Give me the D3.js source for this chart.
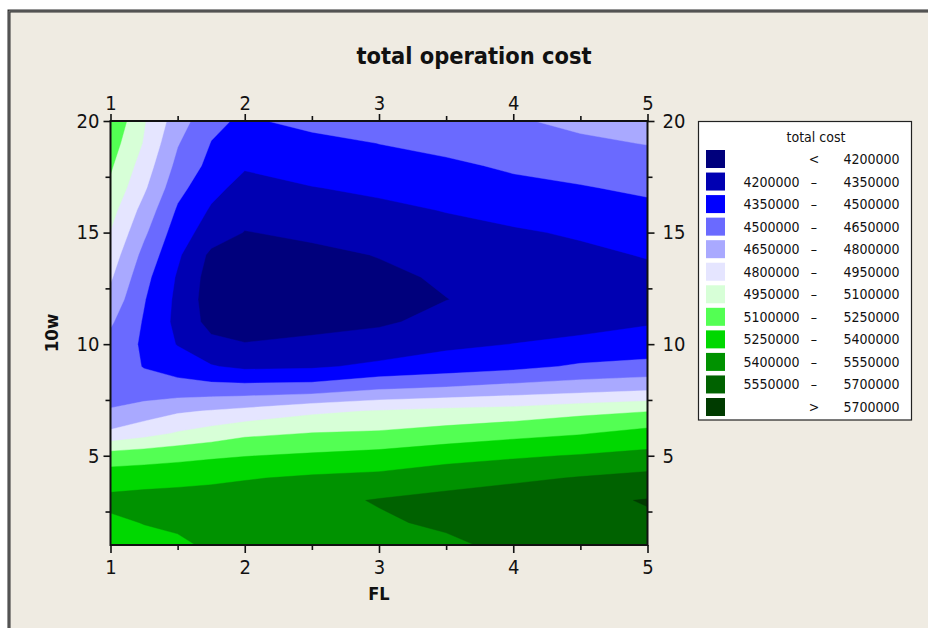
<!DOCTYPE html>
<html>
<head>
<meta charset="utf-8">
<script src="https://cdn.jsdelivr.net/npm/d3@7"></script>
<style>
  body { margin: 0; background: #ffffff; }
  svg { display: block; }
  .tahoma { font-family: "DejaVu Sans Condensed", "DejaVu Sans", sans-serif; font-stretch: condensed; }
</style>
</head>
<body>
<svg id="chart" width="928" height="628"></svg>
<script>
// FL positions (columns) and w positions (rows) where the total cost surface is sampled
const flValues = [1, 1.25, 1.5, 1.75, 2, 2.5, 3, 3.5, 4, 4.5, 5];
const wValues = [1, 2, 3, 4, 5, 6, 7, 8, 9, 10, 11, 12, 13, 14, 15, 16, 17, 18, 19, 20];

// Total cost in thousands, one list per FL column, from w = 1 up to w = 20
const costFL100 = [5340, 5370, 5440, 5330, 5170, 4830, 4660, 4590, 4570, 4600, 4670, 4748, 4819, 4881, 4944, 5004, 5070, 5120, 5170, 5230];
const costFL125 = [5350, 5405, 5460, 5336, 5190, 4897, 4720, 4560, 4494, 4477, 4486, 4509, 4546, 4604, 4677, 4745, 4823, 4881, 4938, 4962];
const costFL150 = [5360, 5440, 5480, 5342, 5211, 4964, 4780, 4560, 4440, 4342, 4311, 4317, 4334, 4374, 4421, 4480, 4547, 4607, 4660, 4721];
const costFL175 = [5435, 5470, 5480, 5366, 5228, 5017, 4810, 4560, 4360, 4240, 4150, 4125, 4137, 4168, 4279, 4333, 4394, 4457, 4495, 4540];
const costFL200 = [5510, 5500, 5480, 5390, 5245, 5070, 4840, 4560, 4320, 4205, 4140, 4110, 4115, 4150, 4195, 4250, 4300, 4365, 4425, 4470];
const costFL250 = [5520, 5530, 5510, 5422, 5272, 5105, 4920, 4570, 4330, 4230, 4155, 4130, 4135, 4170, 4225, 4280, 4345, 4410, 4440, 4560];
const costFL300 = [5500, 5530, 5560, 5440, 5300, 5120, 4960, 4640, 4380, 4260, 4180, 4160, 4175, 4205, 4250, 4320, 4375, 4435, 4502, 4564];
const costFL350 = [5520, 5575, 5600, 5481, 5350, 5158, 4992, 4670, 4420, 4320, 4240, 4198, 4215, 4260, 4310, 4355, 4410, 4475, 4540, 4600];
const costFL400 = [5590, 5620, 5640, 5520, 5380, 5205, 5010, 4710, 4460, 4352, 4270, 4235, 4245, 4280, 4330, 4405, 4465, 4520, 4580, 4635];
const costFL450 = [5620, 5650, 5670, 5560, 5410, 5240, 5060, 4740, 4520, 4380, 4305, 4275, 4280, 4315, 4370, 4435, 4490, 4555, 4625, 4682];
const costFL500 = [5640, 5680, 5708, 5596, 5440, 5300, 5095, 4775, 4540, 4420, 4335, 4305, 4310, 4360, 4410, 4465, 4525, 4590, 4655, 4710];
const costColumns = [costFL100, costFL125, costFL150, costFL175, costFL200, costFL250,
                     costFL300, costFL350, costFL400, costFL450, costFL500];

// Contour breaks (thousands) and the fill of each band, lowest band first
const breaksK = [4200, 4350, 4500, 4650, 4800, 4950, 5100, 5250, 5400, 5550, 5700];
const bandColors = ["#00007C", "#0000B2", "#0000FF", "#6A6AFF", "#A9A9FF", "#E5E5FF",
                    "#D7FFD7", "#53FF53", "#00D800", "#009200", "#006200", "#003B00"];

const xTicks = [1, 2, 3, 4, 5];
const xMinorTicks = [1.5, 2.5, 3.5, 4.5];
const yTicks = [5, 10, 15, 20];
const yMinorTicks = [2.5, 7.5, 12.5, 17.5];

const W = 928, H = 628;
const svg = d3.select("#chart");

// page, panel and its double frame
svg.append("rect").attr("width", W).attr("height", H).attr("fill", "#ffffff");
svg.append("rect").attr("x", 8).attr("y", 10).attr("width", W).attr("height", H).attr("fill", "#EFEBE2");
svg.append("path").attr("d", `M9,${H + 5} V11 H${W + 5}`)
  .attr("fill", "none").attr("stroke", "#2f2f2f").attr("stroke-width", 3);
svg.append("path").attr("d", `M9,${H + 5} V11 H${W + 5}`)
  .attr("fill", "none").attr("stroke", "#8a8a8a").attr("stroke-width", 0.8);

const x = d3.scaleLinear().domain([1, 5]).range([110.5, 647.5]);
const y = d3.scaleLinear().domain([1, 20]).range([545, 121]);

// build the value grid (row index = w, column index = FL)
const nx = flValues.length, ny = wValues.length;
const grid = new Array(nx * ny);
for (let j = 0; j < ny; j++) {
  for (let i = 0; i < nx; i++) grid[j * nx + i] = costColumns[i][j];
}

// grid coordinates -> data coordinates (sample k sits at index k + 0.5)
const gx = d3.scaleLinear().domain(flValues.map((v, i) => i + 0.5)).range(flValues);
const gy = d3.scaleLinear().domain(wValues.map((v, j) => j + 0.5)).range(wValues);
const path = d3.geoPath(d3.geoTransform({
  point(px, py) { this.stream.point(x(gx(px)), y(gy(py))); }
}));

const contours = d3.contours().size([nx, ny]).thresholds(breaksK)(grid);

svg.append("clipPath").attr("id", "plotClip")
  .append("rect")
  .attr("x", x(1)).attr("y", y(20))
  .attr("width", x(5) - x(1)).attr("height", y(1) - y(20));

const plot = svg.append("g").attr("clip-path", "url(#plotClip)");
plot.append("rect")
  .attr("x", x(1)).attr("y", y(20))
  .attr("width", x(5) - x(1)).attr("height", y(1) - y(20))
  .attr("fill", bandColors[0]);
plot.selectAll("path.band")
  .data(contours)
  .join("path")
  .attr("class", "band")
  .attr("d", path)
  .attr("fill", (d, k) => bandColors[k + 1])
  .attr("fill-rule", "evenodd")
  .attr("stroke", (d, k) => bandColors[k + 1])
  .attr("stroke-width", 0.4);

// plot border
svg.append("rect")
  .attr("x", x(1)).attr("y", y(20))
  .attr("width", x(5) - x(1)).attr("height", y(1) - y(20))
  .attr("fill", "none").attr("stroke", "#111").attr("stroke-width", 2);

// axes on all four sides
function styleAxis(g) {
  g.select(".domain").remove();
  g.selectAll(".tick line").attr("stroke", "#111").attr("stroke-width", 1.6);
  g.selectAll(".tick text").attr("class", "tahoma").attr("fill", "#111").style("font-size", "20px");
}
const fmt = d3.format("d");

svg.append("g").attr("transform", `translate(0,${y(1)})`)
  .call(d3.axisBottom(x).tickValues(xTicks).tickFormat(fmt).tickSize(8).tickPadding(7)).call(styleAxis);
svg.append("g").attr("transform", `translate(0,${y(1)})`)
  .call(d3.axisBottom(x).tickValues(xMinorTicks).tickFormat("").tickSize(5)).call(styleAxis);
svg.append("g").attr("transform", `translate(0,${y(20)})`)
  .call(d3.axisTop(x).tickValues(xTicks).tickFormat(fmt).tickSize(7).tickPadding(4)).call(styleAxis);
svg.append("g").attr("transform", `translate(0,${y(20)})`)
  .call(d3.axisTop(x).tickValues(xMinorTicks).tickFormat("").tickSize(5)).call(styleAxis);
svg.append("g").attr("transform", `translate(${x(1)},0)`)
  .call(d3.axisLeft(y).tickValues(yTicks).tickFormat(fmt).tickSize(7).tickPadding(4)).call(styleAxis);
svg.append("g").attr("transform", `translate(${x(1)},0)`)
  .call(d3.axisLeft(y).tickValues(yMinorTicks).tickFormat("").tickSize(5)).call(styleAxis);
svg.append("g").attr("transform", `translate(${x(5)},0)`)
  .call(d3.axisRight(y).tickValues(yTicks).tickFormat(fmt).tickSize(7).tickPadding(8)).call(styleAxis);
svg.append("g").attr("transform", `translate(${x(5)},0)`)
  .call(d3.axisRight(y).tickValues(yMinorTicks).tickFormat("").tickSize(5)).call(styleAxis);

// titles
svg.append("text").attr("class", "tahoma")
  .attr("x", 474).attr("y", 64).attr("text-anchor", "middle")
  .style("font-size", "23.4px").style("font-weight", "bold").attr("fill", "#111")
  .text("total operation cost");
svg.append("text").attr("class", "tahoma")
  .attr("x", x(3)).attr("y", 600).attr("text-anchor", "middle")
  .style("font-size", "18px").style("font-weight", "bold").attr("fill", "#111")
  .text("FL");
svg.append("text").attr("class", "tahoma")
  .attr("transform", `translate(58,${(y(1) + y(20)) / 2}) rotate(-90)`)
  .attr("text-anchor", "middle")
  .style("font-size", "18.5px").style("font-weight", "bold").attr("fill", "#111")
  .text("10w");

// legend
const lg = svg.append("g").attr("class", "tahoma");
lg.append("rect").attr("x", 698.5).attr("y", 121.5).attr("width", 213).attr("height", 298.5)
  .attr("fill", "#ffffff").attr("stroke", "#222").attr("stroke-width", 1.2);
lg.append("text").attr("x", 816).attr("y", 141.5).attr("text-anchor", "middle")
  .style("font-size", "14px").attr("fill", "#111").text("total cost");

const rowY = d3.scaleLinear().domain([0, 11]).range([159, 407]);
const full = v => String(v * 1000);
const lastRow = bandColors.length - 1;
const rows = bandColors.map((c, k) => ({
  color: c,
  first: k === 0,
  last: k === lastRow,
  lo: k === 0 ? null : breaksK[k - 1],
  hi: k === lastRow ? null : breaksK[k]
}));
const row = lg.selectAll("g.row").data(rows).join("g").attr("class", "row")
  .attr("transform", (d, k) => `translate(0,${rowY(k)})`);
row.append("rect").attr("x", 706).attr("y", -9).attr("width", 19).attr("height", 18)
  .attr("fill", d => d.color);
row.append("text").attr("x", 799.5).attr("y", 5).attr("text-anchor", "end")
  .style("font-size", "14px").attr("fill", "#111")
  .text(d => (d.first || d.last) ? "" : full(d.lo));
row.append("text").attr("x", 814).attr("y", 5).attr("text-anchor", "middle")
  .style("font-size", "14px").attr("fill", "#111")
  .text(d => d.first ? "<" : (d.last ? ">" : "\u2013"));
row.append("text").attr("x", 899.5).attr("y", 5).attr("text-anchor", "end")
  .style("font-size", "14px").attr("fill", "#111")
  .text(d => d.last ? full(d.lo) : full(d.hi));
</script>
</body>
</html>
